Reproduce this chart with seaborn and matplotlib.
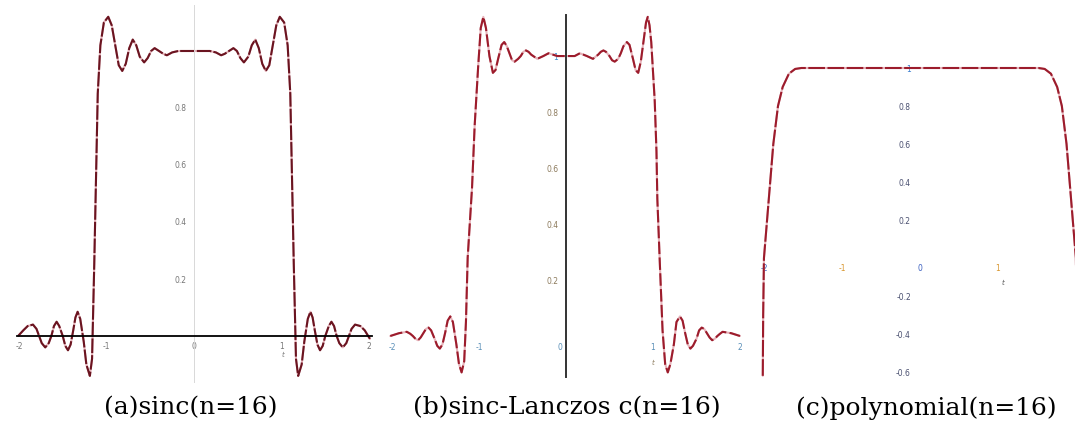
import matplotlib
matplotlib.use("Agg")
import matplotlib.pyplot as plt
import seaborn as sns

# (a) sinc, n=16
sinc_t_left = [-2.01, -1.95, -1.90, -1.84, -1.80, -1.77, -1.74, -1.70, -1.66, -1.63,
               -1.60, -1.57, -1.54, -1.50, -1.47, -1.44, -1.41, -1.38, -1.355, -1.33,
               -1.30, -1.26, -1.23, -1.19, -1.165, -1.14, -1.12, -1.10, -1.07, -1.03,
               -0.98, -0.94, -0.90, -0.86, -0.82, -0.78, -0.74, -0.70, -0.66, -0.62,
               -0.57, -0.53, -0.49, -0.45, -0.40, -0.35, -0.31, -0.25, -0.18, 0.00]
sinc_v_left = [0.0, 0.02, 0.035, 0.04, 0.025, 0.0, -0.025, -0.04, -0.025, 0.0,
               0.035, 0.05, 0.035, 0.0, -0.035, -0.05, -0.03, 0.02, 0.065, 0.085,
               0.06, -0.02, -0.10, -0.14, -0.08, 0.25, 0.55, 0.85, 1.02, 1.10,
               1.12, 1.09, 1.02, 0.95, 0.93, 0.955, 1.01, 1.04, 1.02, 0.98,
               0.96, 0.975, 1.0, 1.01, 1.0, 0.99, 0.985, 0.995, 1.0, 1.0]
sinc_t_right = [0.18, 0.25, 0.31, 0.35, 0.40, 0.45, 0.49, 0.53, 0.57, 0.62,
                0.66, 0.70, 0.74, 0.78, 0.82, 0.86, 0.90, 0.94, 0.98, 1.03,
                1.07, 1.10, 1.12, 1.14, 1.165, 1.19, 1.23, 1.26, 1.30, 1.33,
                1.355, 1.38, 1.41, 1.44, 1.47, 1.50, 1.54, 1.57, 1.60, 1.63,
                1.66, 1.70, 1.74, 1.77, 1.80, 1.84, 1.90, 1.95, 2.01]
sinc_v_right = [1.0, 0.995, 0.985, 0.99, 1.0, 1.01, 1.0, 0.975, 0.96, 0.98,
                1.02, 1.04, 1.01, 0.955, 0.93, 0.95, 1.02, 1.09, 1.12, 1.10,
                1.02, 0.85, 0.55, 0.25, -0.08, -0.14, -0.10, -0.02, 0.06, 0.085,
                0.065, 0.02, -0.03, -0.05, -0.035, 0.0, 0.035, 0.05, 0.035, 0.0,
                -0.025, -0.04, -0.025, 0.0, 0.025, 0.04, 0.035, 0.02, -0.01]

# (b) sinc-Lanczos c, n=16
lanczos_t_left = [-2.02, -1.92, -1.83, -1.79, -1.76, -1.73, -1.70, -1.67, -1.64, -1.61,
                  -1.58, -1.55, -1.51, -1.48, -1.45, -1.42, -1.39, -1.36, -1.33, -1.30,
                  -1.26, -1.23, -1.20, -1.17, -1.15, -1.13, -1.08, -1.05, -1.01, -0.98,
                  -0.95, -0.92, -0.88, -0.84, -0.81, -0.78, -0.74, -0.71, -0.68, -0.65,
                  -0.62, -0.59, -0.55, -0.52, -0.49, -0.46, -0.43, -0.40, -0.33, -0.26,
                  -0.20, -0.10, 0.00]
lanczos_v_left = [0.0, 0.01, 0.015, 0.008, 0.0, -0.01, -0.015, -0.005, 0.01, 0.025,
                  0.03, 0.02, -0.01, -0.035, -0.045, -0.03, 0.01, 0.055, 0.07, 0.05,
                  -0.03, -0.10, -0.13, -0.09, 0.05, 0.28, 0.53, 0.75, 0.96, 1.10,
                  1.14, 1.10, 1.00, 0.94, 0.95, 0.99, 1.04, 1.05, 1.035, 1.01,
                  0.985, 0.98, 0.99, 1.0, 1.015, 1.02, 1.015, 1.005, 0.99, 1.0,
                  1.01, 1.0, 1.0]
lanczos_t_right = [0.10, 0.16, 0.24, 0.31, 0.37, 0.40, 0.43, 0.46, 0.50, 0.53,
                   0.56, 0.60, 0.63, 0.66, 0.70, 0.73, 0.77, 0.80, 0.83, 0.86,
                   0.89, 0.92, 0.94, 0.96, 0.98, 1.02, 1.04, 1.05, 1.08, 1.11,
                   1.14, 1.17, 1.20, 1.24, 1.27, 1.31, 1.34, 1.37, 1.40, 1.43,
                   1.46, 1.50, 1.53, 1.56, 1.59, 1.62, 1.65, 1.68, 1.71, 1.74,
                   1.77, 1.80, 1.90, 2.00]
lanczos_v_right = [1.0, 1.01, 1.0, 0.99, 1.005, 1.015, 1.02, 1.015, 1.0, 0.985,
                   0.98, 0.99, 1.01, 1.035, 1.05, 1.04, 0.99, 0.95, 0.94, 0.98,
                   1.05, 1.12, 1.14, 1.11, 1.05, 0.84, 0.66, 0.49, 0.25, 0.02,
                   -0.10, -0.13, -0.10, -0.03, 0.05, 0.07, 0.055, 0.01, -0.03, -0.045,
                   -0.035, -0.01, 0.02, 0.03, 0.025, 0.01, -0.005, -0.015, -0.01, 0.0,
                   0.008, 0.015, 0.01, 0.0]

# (c) polynomial, n=16
poly_t = [-2.015, -2.01, -2.00, -1.96, -1.92, -1.88, -1.82, -1.76, -1.68, -1.60,
          -1.52, 0.00, 1.52, 1.60, 1.68, 1.76, 1.82, 1.88, 1.92, 1.96,
          2.00, 2.01, 2.015]
poly_v = [-0.62, -0.30, 0.00, 0.20, 0.40, 0.60, 0.80, 0.90, 0.97, 0.995,
          1.00, 1.00, 1.00, 0.995, 0.97, 0.90, 0.80, 0.60, 0.40, 0.20,
          0.00, -0.30, -0.62]

captions = ["(a)sinc(n=16)", "(b)sinc-Lanczos c(n=16)", "(c)polynomial(n=16)"]

sns.set_theme(style="white")
plt.rcParams['font.family'] = ['DejaVu Sans']

fig = plt.figure(figsize=(10.75, 4.28), dpi=100)
fig.patch.set_facecolor("white")

ax_a = fig.add_axes([0.01358, 0.1084, 0.3338, 0.879])
ax_b = fig.add_axes([0.3606, 0.1168, 0.3318, 0.870])
ax_c = fig.add_axes([0.7034, 0.1086, 0.2967, 0.8657])


def draw_curve(ax, t, v, color, dash):
    # pale under-line shows through the dash gaps like the original scan
    sns.lineplot(x=t, y=v, ax=ax, sort=False, estimator=None,
                 color="#e6b3ba", linewidth=1.5)
    sns.lineplot(x=t, y=v, ax=ax, sort=False, estimator=None,
                 color=color, linewidth=1.5, linestyle=dash)


def maple_axes(ax, xlim, ylim):
    ax.set_xlim(*xlim)
    ax.set_ylim(*ylim)
    ax.set_facecolor("none")
    for s in ["top", "right"]:
        ax.spines[s].set_visible(False)
    ax.spines["left"].set_position(("data", 0))
    ax.spines["bottom"].set_position(("data", 0))
    ax.tick_params(which="major", length=2.5, width=0.8, labelsize=5.5,
                   colors="#777777", pad=3)
    ax.tick_params(which="minor", length=1.2, width=0.8, colors="#777777")
    ax.tick_params(axis="x", which="both", direction="inout")
    ax.set_xlabel("")
    ax.set_ylabel("")


# ---- (a)
draw_curve(ax_a, sinc_t_left + sinc_t_right, sinc_v_left + sinc_v_right,
           "#6a1420", (0, (7, 1)))
maple_axes(ax_a, (-2.05, 2.05), (-0.16, 1.16))
ax_a.spines["bottom"].set_color("black")
ax_a.spines["bottom"].set_linewidth(1.3)
ax_a.spines["bottom"].set_bounds(-2.02, 2.03)
ax_a.spines["left"].set_color("#d8d8d8")
ax_a.spines["left"].set_linewidth(0.7)
ax_a.set_xticks([-2, -1, 0, 1, 2], ["-2", "-1", "0", "1", "2"])
ax_a.set_xticks([-1.5, -0.5, 0.5, 1.5], minor=True)
ax_a.set_yticks([0.2, 0.4, 0.6, 0.8], ["0.2", "0.4", "0.6", "0.8"])
ax_a.set_yticks([-0.1, 0.1, 0.3, 0.5, 0.7, 0.9], minor=True)
ax_a.text(1.02, -0.065, "t", fontsize=5, style="italic", color="#777777",
          ha="center", va="center")

# ---- (b)
draw_curve(ax_b, lanczos_t_left + lanczos_t_right,
           lanczos_v_left + lanczos_v_right, "#9c1c2c", (0, (6, 1.6)))
maple_axes(ax_b, (-2.05, 2.05), (-0.15, 1.18))
ax_b.spines["left"].set_color("#333333")
ax_b.spines["left"].set_linewidth(1.4)
ax_b.spines["left"].set_bounds(-0.145, 1.145)
ax_b.spines["bottom"].set_color("none")
ax_b.set_xticks([-2, -1, 1, 2], ["-2", "-1", "1", "2"])
ax_b.set_xticks([-0.5], minor=True)
ax_b.tick_params(axis="x", which="both", labelcolor="#5a8fb8", pad=4)
ax_b.set_yticks([0.2, 0.4, 0.6, 0.8, 1.0], ["0.2", "0.4", "0.6", "0.8", "1"])
ax_b.set_yticks([0.1, 0.3, 0.5, 0.7, 0.9], minor=True)
ax_b.tick_params(axis="y", which="both", labelcolor="#8c7a5c")
ax_b.get_yticklabels()[-1].set_color("#3f8fd0")
ax_b.text(-0.07, -0.04, "0", fontsize=5.5, color="#5a8fb8",
          ha="center", va="center")
ax_b.text(1.0, -0.095, "t", fontsize=5, style="italic", color="#8c7a5c",
          ha="center", va="center")

# ---- (c)
draw_curve(ax_c, poly_t, poly_v, "#9c1c2c", (0, (8, 1.2)))
maple_axes(ax_c, (-2.1, 1.99), (-0.65, 1.3))
ax_c.spines["left"].set_color("none")
ax_c.spines["bottom"].set_color("none")
ax_c.set_xticks([-2, -1, 0, 1], ["-2", "-1", "0", "1"])
ax_c.set_xticks([-1.5, -0.5, 0.5, 1.5], minor=True)
ax_c.tick_params(axis="x", which="both", colors="#555555",
                 labelcolor="#d8962e", pad=3)
ax_c.get_xticklabels()[0].set_color("#3a5fc0")
ax_c.get_xticklabels()[2].set_color("#3a5fc0")
ax_c.set_yticks([-0.6, -0.4, -0.2, 0.2, 0.4, 0.6, 0.8, 1.0],
                ["-0.6", "-0.4", "-0.2", "0.2", "0.4", "0.6", "0.8", "1"])
ax_c.set_yticks([-0.5, -0.3, -0.1, 0.1, 0.3, 0.5], minor=True)
ax_c.tick_params(axis="y", which="both", colors="#555555",
                 labelcolor="#4a5070", pad=4)
ax_c.get_yticklabels()[-1].set_color("#3a7fd0")
ax_c.text(1.06, -0.13, "t", fontsize=5, style="italic", color="#555555",
          ha="center", va="center")

# captions
for cx, cap in zip([191, 567, 926], captions):
    fig.text(cx / 1075, 1 - 408 / 428, cap, ha="center", va="center",
             fontsize=18, family=["DejaVu Serif"], color="black")

fig.savefig("out.png", dpi=100, facecolor="white")
